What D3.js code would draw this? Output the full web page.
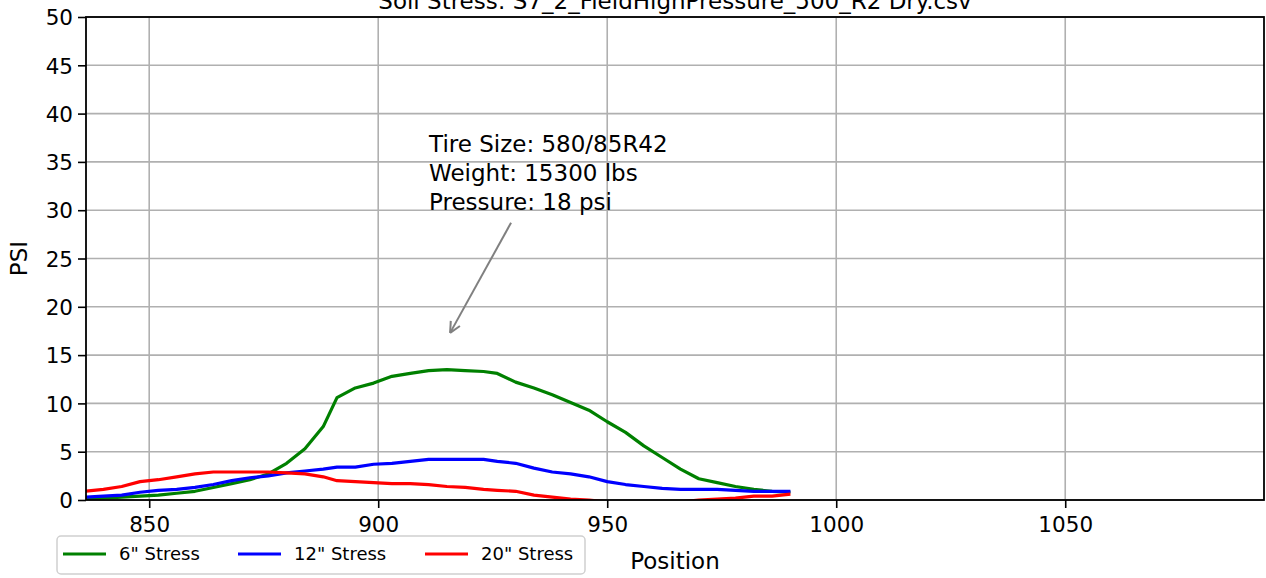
<!DOCTYPE html>
<html lang="en">
  <head>
    <meta charset="UTF-8" />
    <title>Soil Stress</title>
    <script src="https://d3js.org/d3.v7.min.js"></script>
    <style>
      body { margin: 0; background: #fff; }
      text { font-family: "DejaVu Sans", sans-serif; }
    </style>
  </head>
  <body>
    <svg width="1266" height="578"></svg>

    <script>
      // Data
      const positions = [836, 840, 844, 848, 852, 856, 860, 864, 868, 872, 876, 880, 884, 888, 891, 895, 899, 903, 907, 911,
        915, 919, 923, 926, 930, 934, 938, 942, 946, 950, 954, 958, 962, 966, 970, 974, 978, 982, 986, 990];
      const stress6 = [0.1, 0.2, 0.3, 0.4, 0.5, 0.7, 0.9, 1.3, 1.7, 2.1, 2.7, 3.8, 5.3, 7.6, 10.6, 11.6, 12.1, 12.8, 13.1, 13.4,
        13.5, 13.4, 13.3, 13.1, 12.2, 11.6, 10.9, 10.1, 9.3, 8.1, 7.0, 5.6, 4.4, 3.2, 2.2, 1.8, 1.4, 1.1, 0.9, 0.8];
      const stress12 = [0.3, 0.4, 0.5, 0.8, 1.0, 1.1, 1.3, 1.6, 2.0, 2.3, 2.5, 2.8, 3.0, 3.2, 3.4, 3.4, 3.7, 3.8, 4.0, 4.2,
        4.2, 4.2, 4.2, 4.0, 3.8, 3.3, 2.9, 2.7, 2.4, 1.9, 1.6, 1.4, 1.2, 1.1, 1.1, 1.1, 1.0, 0.9, 0.9, 0.9];
      const stress20 = [0.9, 1.1, 1.4, 1.9, 2.1, 2.4, 2.7, 2.9, 2.9, 2.9, 2.9, 2.8, 2.7, 2.4, 2.0, 1.9, 1.8, 1.7, 1.7, 1.6,
        1.4, 1.3, 1.1, 1.0, 0.9, 0.5, 0.3, 0.1, 0.0, -0.2, -0.4, -0.5, -0.4, -0.2, 0.0, 0.1, 0.2, 0.4, 0.4, 0.6];
      const seriesNames = ['6" Stress', '12" Stress', '20" Stress'];
      const seriesColors = ["green", "blue", "red"];
      const xTicks = [850, 900, 950, 1000, 1050];
      const yTicks = [0, 5, 10, 15, 20, 25, 30, 35, 40, 45, 50];
      const noteLines = ["Tire Size: 580/85R42", "Weight: 15300 lbs", "Pressure: 18 psi"];

      const svg = d3.select("svg");
      const margin = { top: 17, right: 2, bottom: 78, left: 86 };
      const width = +svg.attr("width") - margin.left - margin.right;
      const height = +svg.attr("height") - margin.top - margin.bottom;

      const x = d3.scaleLinear().domain([836.2, 1093.4]).range([0, width]);
      const y = d3.scaleLinear().domain([0, 50]).range([height, 0]);

      const g = svg.append("g").attr("transform", `translate(${margin.left},${margin.top})`);

      // titulo (cortado no topo, como no original)
      svg.append("text")
        .attr("x", margin.left + width / 2)
        .attr("y", 9)
        .attr("text-anchor", "middle")
        .style("font-size", "23px")
        .text("Soil Stress: S7_2_FieldHighPressure_500_R2 Dry.csv");

      g.append("clipPath").attr("id", "plot-clip")
        .append("rect").attr("width", width).attr("height", height);

      // grid
      g.selectAll(".vgrid").data(xTicks).enter().append("line")
        .attr("x1", d => x(d)).attr("x2", d => x(d))
        .attr("y1", 0).attr("y2", height)
        .style("stroke", "#b0b0b0").style("stroke-width", 1.6);
      g.selectAll(".hgrid").data(yTicks).enter().append("line")
        .attr("x1", 0).attr("x2", width)
        .attr("y1", d => y(d)).attr("y2", d => y(d))
        .style("stroke", "#b0b0b0").style("stroke-width", 1.6);

      // curves
      const line = d3.line()
        .x((d, i) => x(positions[i]))
        .y(d => y(d));
      [stress6, stress12, stress20].forEach((vals, k) => {
        g.append("path")
          .datum(vals)
          .attr("clip-path", "url(#plot-clip)")
          .attr("d", line)
          .style("fill", "none")
          .style("stroke", seriesColors[k])
          .style("stroke-width", 3.2)
          .style("stroke-linejoin", "round");
      });

      // frame
      g.append("rect").attr("width", width).attr("height", height)
        .style("fill", "none").style("stroke", "#000").style("stroke-width", 1.8);

      // axes
      const xAxis = g.append("g").attr("transform", `translate(0,${height})`)
        .call(d3.axisBottom(x).tickValues(xTicks).tickSize(8).tickPadding(9).tickFormat(d3.format("d")));
      const yAxis = g.append("g")
        .call(d3.axisLeft(y).tickValues(yTicks).tickSize(8).tickPadding(5).tickFormat(d3.format("d")));
      [xAxis, yAxis].forEach(a => {
        a.select(".domain").remove();
        a.selectAll(".tick line").style("stroke", "#000").style("stroke-width", 1.6);
        a.selectAll(".tick text").style("font-size", "21.5px").style("font-family", "DejaVu Sans").attr("fill", "#000");
      });
      yAxis.selectAll(".tick text").attr("dy", "0.36em");

      // axis labels
      svg.append("text")
        .attr("x", margin.left + width / 2)
        .attr("y", 569)
        .attr("text-anchor", "middle")
        .style("font-size", "23px")
        .text("Position");
      svg.append("text")
        .attr("transform", `translate(27,${margin.top + height / 2}) rotate(-90)`)
        .attr("text-anchor", "middle")
        .style("font-size", "23px")
        .text("PSI");

      // annotation
      const note = g.append("text")
        .attr("x", x(911.1))
        .attr("y", y(36))
        .style("font-size", "23px");
      note.selectAll("tspan").data(noteLines).enter().append("tspan")
        .attr("x", x(911.1))
        .attr("dy", (d, i) => (i === 0 ? 0 : 29))
        .text(d => d);

      const ax0 = x(929.0), ay0 = y(28.7), ax1 = x(915.7), ay1 = y(17.3);
      g.append("line")
        .attr("x1", ax0).attr("y1", ay0).attr("x2", ax1).attr("y2", ay1)
        .style("stroke", "#808080").style("stroke-width", 2);
      const ang = Math.atan2(ay1 - ay0, ax1 - ax0);
      const headLen = 12;
      [-0.45, 0.45].forEach(off => {
        g.append("line")
          .attr("x1", ax1).attr("y1", ay1)
          .attr("x2", ax1 - headLen * Math.cos(ang + off))
          .attr("y2", ay1 - headLen * Math.sin(ang + off))
          .style("stroke", "#808080").style("stroke-width", 2);
      });

      // legend
      const legend = svg.append("g").attr("transform", "translate(57,536)");
      legend.append("rect")
        .attr("width", 528).attr("height", 38)
        .attr("rx", 4)
        .style("fill", "#fff").style("stroke", "#d0d0d0").style("stroke-width", 1.5);
      const legendX = [6, 181, 368];
      seriesNames.forEach((name, k) => {
        legend.append("line")
          .attr("x1", legendX[k]).attr("x2", legendX[k] + 43)
          .attr("y1", 18).attr("y2", 18)
          .style("stroke", seriesColors[k]).style("stroke-width", 3.2);
        legend.append("text")
          .attr("x", legendX[k] + 56)
          .attr("y", 24)
          .style("font-size", "18px")
          .text(name);
      });
    </script>
  </body>
</html>
